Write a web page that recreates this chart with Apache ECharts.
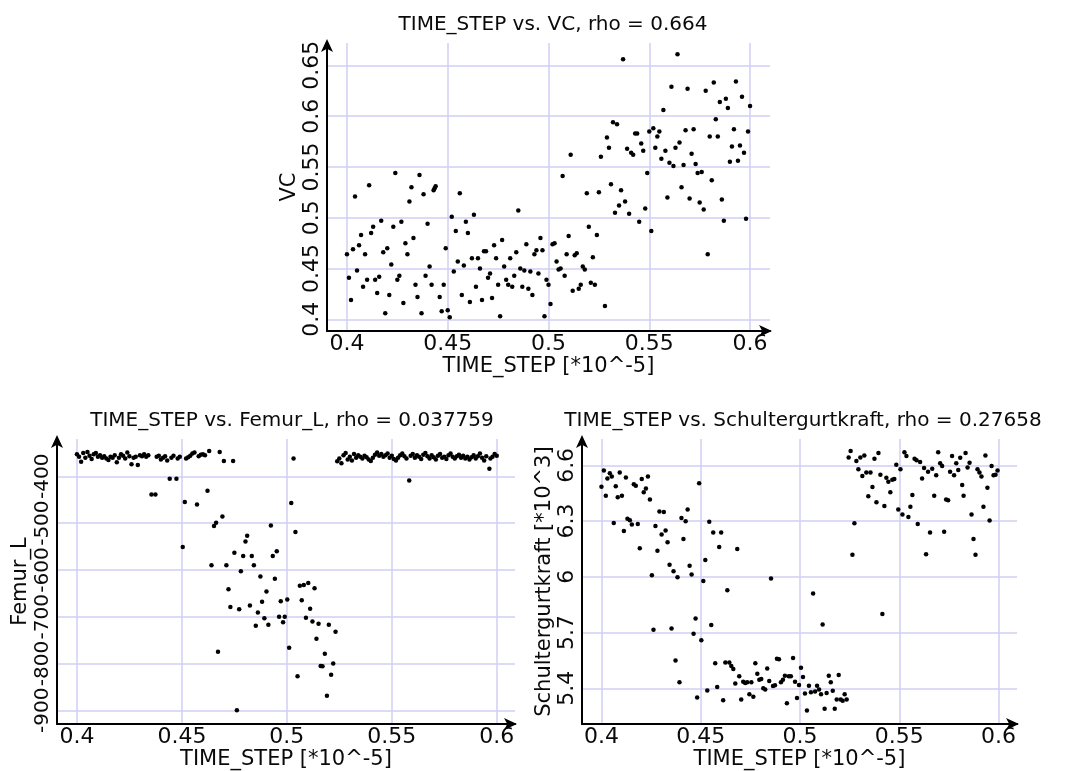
<!DOCTYPE html>
<html>
<head>
<meta charset="utf-8">
<script src="https://cdn.jsdelivr.net/npm/echarts@6/dist/echarts.min.js"></script>
<style>
html,body{margin:0;padding:0;background:#fff;}
#chart{width:1073px;height:771px;}
</style>
</head>
<body>
<div id="chart"></div>
<script>
// ---- tick labels ----
const timeStepTicks = [0.4, 0.45, 0.5, 0.55, 0.6];
const vcTicks = [0.4, 0.45, 0.5, 0.55, 0.6, 0.65];
const femurTicks = [-900, -800, -700, -600, -500, -400];
const schulterTicks = [5.4, 5.7, 6.0, 6.3, 6.6];

// ---- titles ----
const titles = [
  'TIME_STEP vs. VC, rho = 0.664',
  'TIME_STEP vs. Femur_L, rho = 0.037759',
  'TIME_STEP vs. Schultergurtkraft, rho = 0.27658'
];

// ---- TIME_STEP vs VC  [TIME_STEP, VC] ----
const vcPoints = [
[0.400,0.464],[0.401,0.441],[0.402,0.419],[0.403,0.469],[0.404,0.521],[0.405,0.448],[0.406,0.473],[0.407,0.483],
[0.408,0.432],[0.409,0.464],[0.410,0.439],[0.411,0.532],[0.412,0.485],[0.413,0.491],[0.414,0.439],[0.415,0.426],
[0.416,0.442],[0.417,0.497],[0.418,0.466],[0.419,0.406],[0.420,0.470],[0.421,0.424],[0.422,0.454],[0.423,0.491],
[0.424,0.544],[0.425,0.439],[0.426,0.443],[0.427,0.496],[0.428,0.416],[0.429,0.475],[0.430,0.464],[0.431,0.516],
[0.432,0.530],[0.433,0.480],[0.434,0.434],[0.435,0.422],[0.436,0.542],[0.437,0.406],[0.438,0.523],[0.439,0.443],
[0.440,0.494],[0.441,0.452],[0.442,0.434],[0.443,0.527],[0.4435,0.529],[0.444,0.531],[0.446,0.422],[0.447,0.408],
[0.448,0.434],[0.449,0.470],[0.450,0.409],[0.451,0.402],[0.452,0.501],[0.453,0.447],[0.454,0.487],[0.455,0.457],
[0.456,0.524],[0.457,0.424],[0.458,0.453],[0.459,0.496],[0.460,0.485],[0.461,0.417],[0.462,0.460],[0.463,0.503],
[0.464,0.432],[0.465,0.460],[0.466,0.450],[0.467,0.419],[0.468,0.467],[0.469,0.467],[0.470,0.441],[0.471,0.445],
[0.472,0.421],[0.473,0.473],[0.474,0.460],[0.475,0.434],[0.476,0.403],[0.477,0.478],[0.478,0.452],[0.479,0.439],
[0.480,0.434],[0.481,0.460],[0.482,0.432],[0.483,0.443],[0.484,0.466],[0.485,0.507],[0.486,0.450],[0.487,0.432],
[0.488,0.448],[0.489,0.474],[0.490,0.430],[0.491,0.447],[0.492,0.424],[0.493,0.464],[0.494,0.468],[0.495,0.445],
[0.496,0.480],[0.497,0.468],[0.498,0.403],[0.499,0.439],[0.500,0.434],[0.501,0.415],[0.502,0.474],[0.503,0.475],
[0.504,0.457],[0.505,0.449],[0.506,0.450],[0.507,0.541],[0.508,0.443],[0.509,0.464],[0.510,0.482],[0.511,0.562],
[0.512,0.428],[0.513,0.463],[0.514,0.465],[0.515,0.430],[0.516,0.434],[0.517,0.452],[0.518,0.449],[0.519,0.524],
[0.520,0.491],[0.521,0.436],[0.522,0.461],[0.523,0.434],[0.524,0.483],[0.525,0.525],[0.526,0.560],[0.528,0.413],
[0.529,0.579],[0.530,0.569],[0.531,0.533],[0.532,0.594],[0.533,0.505],[0.534,0.592],[0.535,0.512],[0.536,0.527],
[0.537,0.656],[0.538,0.516],[0.539,0.568],[0.540,0.504],[0.541,0.564],[0.542,0.562],[0.543,0.583],[0.544,0.583],
[0.545,0.496],[0.546,0.573],[0.547,0.566],[0.548,0.509],[0.549,0.544],[0.550,0.585],[0.551,0.487],[0.552,0.588],
[0.553,0.569],[0.554,0.580],[0.555,0.585],[0.556,0.558],[0.557,0.606],[0.558,0.566],[0.559,0.520],[0.560,0.554],
[0.561,0.629],[0.562,0.551],[0.563,0.569],[0.564,0.661],[0.565,0.574],[0.566,0.530],[0.567,0.552],[0.568,0.586],
[0.569,0.627],[0.570,0.519],[0.571,0.563],[0.572,0.587],[0.573,0.553],[0.574,0.544],[0.575,0.515],[0.576,0.545],
[0.577,0.508],[0.578,0.625],[0.579,0.464],[0.580,0.580],[0.581,0.537],[0.582,0.633],[0.583,0.597],[0.584,0.580],
[0.585,0.614],[0.586,0.518],[0.587,0.497],[0.588,0.617],[0.589,0.608],[0.590,0.555],[0.591,0.570],[0.592,0.587],
[0.593,0.634],[0.594,0.556],[0.595,0.571],[0.596,0.619],[0.597,0.564],[0.598,0.499],[0.599,0.585],[0.600,0.610]
];

// ---- TIME_STEP vs Femur_L  [TIME_STEP, Femur_L] ----
const femurPoints = [
[0.400,-353],[0.401,-358],[0.402,-369],[0.403,-350],[0.404,-360],[0.405,-348],[0.406,-356],[0.407,-363],
[0.408,-353],[0.409,-350],[0.410,-358],[0.411,-355],[0.412,-360],[0.413,-357],[0.414,-362],[0.415,-365],
[0.416,-358],[0.417,-360],[0.418,-355],[0.419,-370],[0.420,-360],[0.421,-353],[0.422,-356],[0.423,-362],
[0.424,-349],[0.425,-357],[0.426,-374],[0.427,-360],[0.428,-358],[0.429,-376],[0.430,-355],[0.431,-357],
[0.432,-353],[0.433,-358],[0.434,-355],[0.4355,-439],[0.4374,-439],[0.438,-358],[0.439,-356],[0.440,-364],
[0.441,-360],[0.442,-357],[0.443,-366],[0.4442,-405],[0.445,-360],[0.446,-356],[0.4474,-405],[0.448,-362],
[0.449,-358],[0.4504,-551],[0.4514,-455],[0.452,-362],[0.453,-359],[0.454,-356],[0.455,-351],[0.456,-349],
[0.4572,-460],[0.458,-357],[0.459,-354],[0.460,-353],[0.461,-355],[0.4622,-431],[0.463,-346],[0.4641,-590],
[0.4653,-506],[0.4663,-499],[0.4672,-775],[0.468,-348],[0.4693,-486],[0.470,-367],[0.4712,-590],[0.4722,-641],
[0.4731,-679],[0.4744,-367],[0.4750,-563],[0.4762,-900],[0.4773,-684],[0.4781,-603],[0.4792,-570],[0.4803,-539],
[0.4811,-527],[0.4824,-676],[0.4833,-570],[0.4843,-590],[0.4852,-719],[0.4862,-691],[0.4874,-614],[0.4882,-668],
[0.4893,-703],[0.4903,-646],[0.4912,-717],[0.4924,-505],[0.4933,-570],[0.4943,-619],[0.4952,-560],[0.4963,-700],
[0.4971,-667],[0.4982,-712],[0.4990,-700],[0.5002,-663],[0.5011,-766],[0.5021,-457],[0.5032,-362],[0.5041,-519],
[0.5051,-827],[0.5062,-634],[0.5071,-665],[0.5081,-632],[0.5091,-702],[0.5102,-628],[0.5111,-683],[0.5122,-710],
[0.5132,-639],[0.5141,-747],[0.5151,-715],[0.5161,-805],[0.5170,-806],[0.5181,-779],[0.5191,-869],[0.5200,-717],
[0.5211,-824],[0.5221,-800],[0.5232,-732],
[0.524,-368],[0.525,-362],[0.526,-372],[0.527,-355],[0.528,-350],[0.529,-364],[0.530,-358],[0.531,-366],
[0.532,-352],[0.533,-360],[0.534,-355],[0.535,-358],[0.536,-362],[0.537,-356],[0.538,-359],[0.539,-364],
[0.540,-367],[0.541,-360],[0.542,-354],[0.543,-349],[0.544,-356],[0.545,-352],[0.546,-358],[0.547,-355],
[0.548,-351],[0.549,-360],[0.550,-356],[0.551,-363],[0.552,-366],[0.553,-360],[0.554,-355],[0.555,-351],
[0.556,-357],[0.557,-362],[0.5583,-409],[0.559,-356],[0.560,-352],[0.561,-360],[0.562,-355],[0.563,-358],
[0.564,-363],[0.565,-354],[0.566,-350],[0.567,-357],[0.568,-362],[0.569,-355],[0.570,-359],[0.571,-364],
[0.572,-356],[0.573,-352],[0.574,-360],[0.575,-358],[0.576,-363],[0.577,-355],[0.578,-351],[0.579,-358],
[0.580,-362],[0.581,-357],[0.582,-354],[0.583,-360],[0.584,-356],[0.585,-362],[0.586,-358],[0.587,-364],
[0.588,-359],[0.589,-355],[0.590,-362],[0.591,-357],[0.592,-351],[0.593,-360],[0.594,-366],[0.595,-357],
[0.5965,-384],[0.597,-362],[0.598,-358],[0.599,-352],[0.600,-356]
];

// ---- TIME_STEP vs Schultergurtkraft  [TIME_STEP, *10^3] ----
const schulterPoints = [
[0.4000,6.485],[0.4012,6.573],[0.4022,6.437],[0.4030,6.529],[0.4042,6.558],[0.4052,6.540],[0.4062,6.290],[0.4072,6.487],
[0.4082,6.428],[0.4092,6.561],[0.4103,6.437],[0.4113,6.246],[0.4123,6.535],[0.4131,6.313],[0.4143,6.304],[0.4153,6.281],
[0.4163,6.499],[0.4173,6.490],[0.4183,6.285],[0.4193,6.154],[0.4203,6.526],[0.4213,6.455],[0.4224,6.476],[0.4234,6.540],
[0.4244,6.416],[0.4254,6.009],[0.4262,5.715],[0.4272,6.274],[0.4282,6.140],[0.4292,6.352],[0.4303,6.228],[0.4314,6.349],
[0.4323,6.250],[0.4333,6.186],[0.4343,6.065],[0.4353,5.722],[0.4363,6.030],[0.4373,5.549],[0.4383,5.998],[0.4393,5.432],
[0.4403,6.317],[0.4413,6.204],[0.4424,6.299],[0.4434,6.363],[0.4444,6.060],[0.4454,6.012],[0.4464,5.694],[0.4474,5.775],
[0.4482,5.350],[0.4492,6.504],[0.4503,5.658],[0.4513,5.977],[0.4523,6.090],[0.4533,5.388],[0.4543,6.296],[0.4553,5.740],
[0.4563,6.239],[0.4573,5.535],[0.4583,5.407],[0.4593,6.161],[0.4603,6.239],[0.4613,5.336],[0.4624,5.538],[0.4634,5.927],
[0.4644,5.538],[0.4654,5.520],[0.4664,5.503],[0.4674,5.425],[0.4684,6.150],[0.4694,5.464],[0.4704,5.340],[0.4714,5.435],
[0.4724,5.428],[0.4734,5.432],[0.4745,5.368],[0.4755,5.432],[0.4765,5.354],[0.4775,5.535],[0.4785,5.478],[0.4795,5.446],
[0.4805,5.450],[0.4815,5.400],[0.4825,5.393],[0.4835,5.506],[0.4845,5.439],[0.4854,5.991],[0.4864,5.412],[0.4874,5.416],
[0.4884,5.559],[0.4894,5.556],[0.4904,5.432],[0.4914,5.446],[0.4924,5.467],[0.4934,5.319],[0.4944,5.464],[0.4954,5.464],
[0.4965,5.563],[0.4975,5.435],[0.4985,5.347],[0.4995,5.418],[0.5005,5.510],[0.5015,5.460],[0.5025,5.372],[0.5035,5.280],
[0.5045,5.414],[0.5055,5.379],[0.5066,5.910],[0.5076,5.382],[0.5086,5.414],[0.5096,5.393],[0.5106,5.368],[0.5114,5.743],
[0.5124,5.290],[0.5134,5.375],[0.5145,5.467],[0.5155,5.432],[0.5165,5.386],[0.5175,5.290],[0.5185,5.340],[0.5195,5.471],
[0.5205,5.340],[0.5215,5.333],[0.5225,5.368],[0.5235,5.340],
[0.5245,6.642],[0.5255,6.678],[0.5264,6.119],[0.5274,6.288],[0.5284,6.623],[0.5294,6.579],[0.5304,6.642],[0.5314,6.543],
[0.5324,6.653],[0.5334,6.561],[0.5344,6.434],[0.5355,6.561],[0.5365,6.483],[0.5375,6.635],[0.5385,6.402],[0.5395,6.667],
[0.5405,6.550],[0.5415,5.800],[0.5425,6.381],[0.5435,6.533],[0.5445,6.512],[0.5455,6.455],[0.5465,6.522],[0.5475,6.526],
[0.5485,6.604],[0.5495,6.363],[0.5506,6.579],[0.5516,6.335],[0.5526,6.671],[0.5536,6.650],[0.5546,6.322],[0.5556,6.377],
[0.5566,6.441],[0.5577,6.635],[0.5587,6.627],[0.5593,6.285],[0.5605,6.618],[0.5615,6.529],[0.5625,6.586],[0.5635,6.122],
[0.5645,6.565],[0.5655,6.239],[0.5666,6.582],[0.5676,6.437],[0.5686,6.547],[0.5696,6.671],[0.5706,6.611],[0.5716,6.596],
[0.5726,6.242],[0.5736,6.416],[0.5746,6.412],[0.5756,6.565],[0.5766,6.650],[0.5776,6.547],[0.5787,6.611],[0.5797,6.575],
[0.5807,6.641],[0.5817,6.494],[0.5824,6.437],[0.5834,6.667],[0.5844,6.589],[0.5854,6.614],[0.5864,6.335],[0.5874,6.204],
[0.5884,6.119],[0.5894,6.579],[0.5904,6.561],[0.5914,6.540],[0.5924,6.377],[0.5934,6.653],[0.5944,6.480],[0.5955,6.303],
[0.5965,6.596],[0.5975,6.547],[0.5985,6.550],[0.5995,6.572]
];

const FONT = '"DejaVu Sans", Verdana, sans-serif';
const GRIDLINE = '#cfcff6';
const TXT = '#0a0a0a';

function xAxisOf(gridIndex, min, max, gap) {
  return {
    type: 'value', gridIndex, min, max,
    name: 'TIME_STEP [*10^-5]', nameLocation: 'middle', nameGap: gap,
    nameTextStyle: { fontFamily: FONT, fontSize: 21, color: TXT },
    axisLine: { show: true, onZero: false, symbol: ['none', 'arrow'], symbolSize: [9, 13], symbolOffset: [0, 2],
      lineStyle: { color: '#000', width: 2 } },
    axisTick: { show: false, customValues: timeStepTicks },
    axisLabel: { customValues: timeStepTicks, margin: 2, fontFamily: FONT, fontSize: 22, color: TXT,
      hideOverlap: false, showMinLabel: true, showMaxLabel: true },
    splitLine: { show: true, lineStyle: { color: GRIDLINE, width: 1.5 } }
  };
}
function yAxisOf(gridIndex, min, max, ticks, name, gap, labelSize) {
  return {
    type: 'value', gridIndex, min, max,
    name, nameLocation: 'middle', nameGap: gap,
    nameTextStyle: { fontFamily: FONT, fontSize: 21, color: TXT },
    axisLine: { show: true, onZero: false, symbol: ['none', 'arrow'], symbolSize: [9, 13], symbolOffset: [0, 4],
      lineStyle: { color: '#000', width: 2 } },
    axisTick: { show: false, customValues: ticks },
    axisLabel: { customValues: ticks, rotate: 90, margin: 4, fontFamily: FONT, fontSize: labelSize, color: TXT,
      hideOverlap: false, showMinLabel: true, showMaxLabel: true },
    splitLine: { show: true, lineStyle: { color: GRIDLINE, width: 1.5 } }
  };
}
function scatterOf(i, data) {
  return { type: 'scatter', xAxisIndex: i, yAxisIndex: i, data, symbolSize: 4.5,
    itemStyle: { color: '#000', opacity: 1 }, silent: true, animation: false };
}

const chart = echarts.init(document.getElementById('chart'), null, { renderer: 'canvas' });
chart.setOption({
  backgroundColor: '#fff',
  animation: false,
  title: [
    { text: titles[0], left: 548, top: 10, textAlign: 'center',
      textStyle: { fontFamily: FONT, fontSize: 20, fontWeight: 'normal', color: TXT } },
    { text: titles[1], left: 287, top: 406, textAlign: 'center',
      textStyle: { fontFamily: FONT, fontSize: 20, fontWeight: 'normal', color: TXT } },
    { text: titles[2], left: 798, top: 406, textAlign: 'center',
      textStyle: { fontFamily: FONT, fontSize: 20, fontWeight: 'normal', color: TXT } }
  ],
  grid: [
    { left: 327, right: 303, top: 43, bottom: 440, containLabel: false },
    { left: 57, right: 558, top: 439, bottom: 42, containLabel: false },
    { left: 582, right: 56, top: 439, bottom: 43, containLabel: false }
  ],
  xAxis: [
    xAxisOf(0, 0.3901, 0.6099, 21),
    xAxisOf(1, 0.3905, 0.6087, 19),
    xAxisOf(2, 0.3902, 0.6093, 19)
  ],
  yAxis: [
    yAxisOf(0, 0.3885, 0.672, vcTicks, 'VC', 27, 22),
    yAxisOf(1, -929.4, -320.2, femurTicks, 'Femur_L', 26, 20),
    yAxisOf(2, 5.207, 6.742, schulterTicks, 'Schultergurtkraft [*10^3]', 26, 22)
  ],
  series: [
    scatterOf(0, vcPoints),
    scatterOf(1, femurPoints),
    scatterOf(2, schulterPoints)
  ]
});
</script>
</body>
</html>
